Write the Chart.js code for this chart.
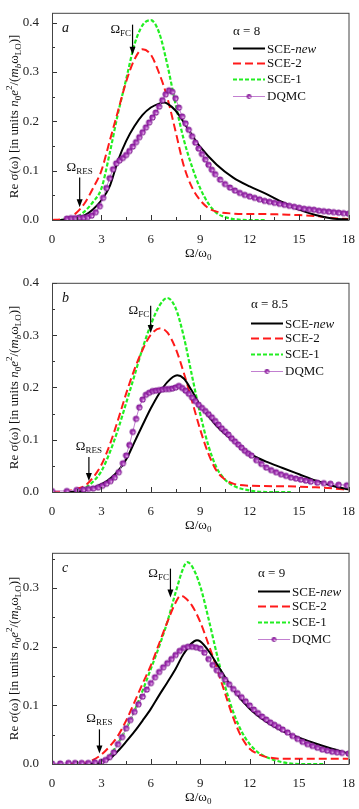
<!DOCTYPE html>
<html>
<head>
<meta charset="utf-8">
<script src="https://cdn.jsdelivr.net/npm/chart.js@4"></script>
<style>
  html, body { margin: 0; padding: 0; background: #fff; }
  .panel { position: absolute; left: 0; width: 359px; }
  canvas { display: block; }
</style>
</head>
<body>
<div class="panel" style="top:0px"><canvas id="chartA" width="359" height="270"></canvas></div>
<div class="panel" style="top:270px"><canvas id="chartB" width="359" height="270"></canvas></div>
<div class="panel" style="top:540px"><canvas id="chartC" width="359" height="269"></canvas></div>
<script>
// 軸の目盛り
const xTicks = [0, 3, 6, 9, 12, 15, 18];
const yTicksA = [0.0, 0.1, 0.2, 0.3, 0.4];
const yTicksB = [0.0, 0.1, 0.2, 0.3, 0.4];
const yTicksC = [0.0, 0.1, 0.2, 0.3];
const seriesNames = ['SCE-new', 'SCE-2', 'SCE-1', 'DQMC'];
const alphaLabels = ['α = 8', 'α = 8.5', 'α = 9'];
const panelLetters = ['a', 'b', 'c'];

// パネル a (α = 8)
const aNewX = [0.5,1,1.5,2,2.5,3,3.5,4,4.5,5,5.5,6,6.5,6.8,7,7.5,8,8.5,9,10,11,12,13,14,15,16,17,18];
const aNewY = [0,0.001,0.003,0.01,0.022,0.04,0.068,0.12,0.16,0.19,0.213,0.228,0.236,0.238,0.236,0.222,0.198,0.172,0.148,0.112,0.086,0.068,0.053,0.036,0.021,0.01,0.003,0.001];
const aSce2X = [0,0.5,1,1.5,2,2.5,3,3.5,4,4.5,5,5.5,6,6.5,7,7.5,8,8.5,9,9.5,10,11,12,13,14,15,16,17,18];
const aSce2Y = [0,0.001,0.004,0.015,0.035,0.065,0.1,0.16,0.22,0.28,0.325,0.346,0.335,0.298,0.248,0.18,0.11,0.066,0.04,0.024,0.017,0.013,0.012,0.012,0.011,0.01,0.008,0.004,0.002];
const aSce1X = [0.5,1,1.5,2,2.5,3,3.5,4,4.5,5,5.5,6,6.5,7,7.5,8,8.5,9,9.5,10,10.5,11,12,13];
const aSce1Y = [0,0.001,0.006,0.018,0.037,0.064,0.135,0.215,0.285,0.355,0.395,0.405,0.38,0.315,0.235,0.163,0.108,0.064,0.033,0.014,0.006,0.002,0,0];
const aDqmcX = [0.9,1.15,1.4,1.65,1.9,2.15,2.4,2.65,2.9,3.1,3.3,3.5,3.7,3.9,4.1,4.3,4.5,4.7,4.9,5.1,5.3,5.5,5.7,5.9,6.1,6.3,6.5,6.7,6.9,7.1,7.3,7.5,7.7,7.9,8.1,8.3,8.5,8.7,8.9,9.1,9.3,9.5,9.7,9.9,10.2,10.5,10.8,11.1,11.4,11.7,12,12.3,12.6,12.9,13.2,13.5,13.8,14.1,14.4,14.7,15,15.3,15.6,15.9,16.2,16.5,16.8,17.1,17.4,17.7,18];
const aDqmcY = [0.003,0.004,0.004,0.005,0.005,0.006,0.009,0.016,0.028,0.045,0.065,0.085,0.103,0.115,0.121,0.126,0.132,0.14,0.149,0.158,0.168,0.178,0.188,0.198,0.208,0.218,0.23,0.243,0.255,0.263,0.26,0.247,0.228,0.21,0.196,0.183,0.17,0.157,0.145,0.134,0.123,0.112,0.102,0.093,0.082,0.073,0.066,0.06,0.055,0.051,0.048,0.045,0.042,0.039,0.037,0.035,0.033,0.031,0.029,0.027,0.025,0.023,0.022,0.021,0.019,0.018,0.017,0.016,0.015,0.014,0.013];

// パネル b (α = 8.5)
const bNewX = [1,2,3,3.5,4,4.5,5,5.5,6,6.5,7,7.6,8,8.5,9,9.5,10,11,12,12.5,13,14,15,16,17,18];
const bNewY = [0,0.003,0.015,0.025,0.04,0.062,0.095,0.128,0.16,0.188,0.21,0.223,0.217,0.193,0.165,0.145,0.126,0.098,0.074,0.065,0.058,0.046,0.034,0.022,0.012,0.005];
const bSce2X = [0,1,1.5,2,2.5,3,3.5,4,4.5,5,5.5,6,6.6,7,7.5,8,8.5,9,9.5,10,10.5,11,12,14,16,17,18];
const bSce2Y = [0,0.002,0.006,0.012,0.028,0.052,0.09,0.137,0.188,0.234,0.272,0.301,0.313,0.305,0.275,0.228,0.174,0.119,0.073,0.04,0.024,0.016,0.012,0.011,0.009,0.007,0.004];
const bSce1X = [1,2,2.5,3,3.5,4,4.5,5,5.5,6,6.5,7,7.5,8,8.5,9,9.5,10,10.5,11,12,13,14.5];
const bSce1Y = [0,0.008,0.02,0.04,0.075,0.119,0.17,0.222,0.275,0.32,0.355,0.371,0.352,0.297,0.222,0.149,0.088,0.046,0.024,0.012,0.003,0,0];
const bDqmcX = [0,0.9,1.5,1.9,2.2,2.5,2.8,3.05,3.3,3.55,3.8,4.05,4.3,4.5,4.7,4.9,5.1,5.3,5.5,5.7,5.9,6.1,6.3,6.5,6.7,6.9,7.1,7.3,7.5,7.7,7.9,8.1,8.3,8.5,8.7,8.9,9.1,9.3,9.5,9.7,9.9,10.1,10.3,10.5,10.7,10.9,11.1,11.3,11.5,11.7,11.9,12.1,12.4,12.7,13,13.3,13.6,13.9,14.2,14.5,14.8,15.1,15.4,15.7,16.1,16.5,16.9,17.4,17.9];
const bDqmcY = [0.002,0.002,0.004,0.005,0.006,0.007,0.009,0.012,0.016,0.021,0.028,0.038,0.055,0.07,0.09,0.115,0.14,0.162,0.177,0.186,0.19,0.193,0.194,0.195,0.196,0.197,0.197,0.198,0.2,0.203,0.199,0.194,0.188,0.181,0.174,0.167,0.161,0.155,0.149,0.143,0.136,0.129,0.122,0.116,0.11,0.103,0.097,0.091,0.085,0.079,0.074,0.07,0.061,0.054,0.047,0.042,0.038,0.034,0.031,0.028,0.026,0.024,0.022,0.02,0.018,0.017,0.016,0.014,0.013];

// パネル c (α = 9)
const cNewX = [2,3,3.5,4,4.5,5,5.5,6,6.5,7,7.5,8,8.8,9,9.5,10,11,12,13,14,15,16,17,18];
const cNewY = [0,0.003,0.009,0.022,0.038,0.055,0.074,0.094,0.117,0.139,0.162,0.188,0.211,0.209,0.193,0.171,0.127,0.094,0.072,0.056,0.045,0.035,0.026,0.018];
const cSce2X = [1,2,2.5,3,3.5,4,4.5,5,5.5,6,6.5,7,7.5,7.8,8,8.5,9,9.5,10,10.5,11,11.5,12,12.5,13,14,16,18];
const cSce2Y = [0,0.002,0.007,0.016,0.03,0.048,0.074,0.105,0.137,0.168,0.205,0.242,0.275,0.287,0.285,0.27,0.242,0.204,0.164,0.121,0.079,0.046,0.026,0.017,0.012,0.009,0.009,0.009];
const cSce1X = [2.5,3,3.5,4,4.5,5,5.5,6,6.5,7,7.5,8,8.2,8.5,9,9.5,10,10.5,11,11.5,12,12.5,13,14,15,16.5];
const cSce1Y = [0,0.004,0.014,0.035,0.06,0.09,0.125,0.162,0.2,0.242,0.292,0.336,0.344,0.337,0.303,0.248,0.188,0.133,0.089,0.056,0.034,0.02,0.012,0.003,0,0];
const cDqmcX = [0,0.5,1,1.4,1.8,2.2,2.6,3,3.25,3.5,3.75,4,4.25,4.5,4.75,5,5.25,5.5,5.75,6,6.25,6.5,6.75,7,7.25,7.5,7.75,8,8.25,8.5,8.75,9,9.25,9.5,9.75,10,10.25,10.5,10.75,11,11.25,11.5,11.75,12,12.25,12.5,12.75,13,13.25,13.5,13.75,14,14.3,14.6,14.9,15.2,15.5,15.8,16.1,16.4,16.7,17,17.3,17.6,18];
const cDqmcY = [0.001,0.001,0.002,0.002,0.002,0.002,0.003,0.004,0.007,0.012,0.02,0.034,0.046,0.061,0.075,0.089,0.102,0.115,0.127,0.138,0.148,0.157,0.165,0.172,0.179,0.186,0.193,0.198,0.2,0.2,0.199,0.197,0.19,0.179,0.169,0.16,0.152,0.144,0.136,0.128,0.121,0.114,0.107,0.1,0.093,0.087,0.081,0.076,0.071,0.067,0.063,0.059,0.054,0.048,0.043,0.038,0.034,0.031,0.028,0.025,0.023,0.021,0.02,0.019,0.018];

// Ω_FC / Ω_RES の矢印位置 (データ座標)
const fcX = [4.89, 5.99, 7.19];
const fcTop = [0.396, 0.356, 0.333];
const fcTip = [0.335, 0.304, 0.284];
const resX = [1.68, 2.24, 2.88];
const resTop = [0.086, 0.067, 0.059];
const resTip = [0.026, 0.021, 0.018];

const serif = "'Liberation Serif', 'DejaVu Serif', serif";

// DQMCの球マーカー
function makeBall(r) {
  const s = Math.ceil(r * 2 + 2);
  const c = document.createElement('canvas');
  c.width = s; c.height = s;
  const g = c.getContext('2d');
  const m = s / 2;
  const grad = g.createRadialGradient(m + r * 0.4, m + r * 0.4, 0.2, m - r * 0.1, m - r * 0.1, r * 1.05);
  grad.addColorStop(0, '#f4d6f6');
  grad.addColorStop(0.35, '#b04cc0');
  grad.addColorStop(0.7, '#8e1ea0');
  grad.addColorStop(1, '#6c0f7e');
  g.fillStyle = grad;
  g.beginPath();
  g.arc(m, m, r, 0, Math.PI * 2);
  g.fill();
  return c;
}
const ball = makeBall(3.1);
const legendBall = makeBall(2.4);

function pts(xs, ys) { return xs.map((x, i) => ({ x: x, y: ys[i] })); }

// 下付き・上付きを含むテキスト描画
function drawRich(ctx, parts, x, y, align) {
  const base = 13, small = 9;
  const fontOf = (p) => (p.i ? 'italic ' : '') + (p.sub || p.sup ? small : base) + 'px ' + serif;
  let total = 0;
  parts.forEach(p => { ctx.font = fontOf(p); total += ctx.measureText(p.t).width; });
  let cx = align === 'center' ? x - total / 2 : (align === 'right' ? x - total : x);
  ctx.textAlign = 'left';
  ctx.textBaseline = 'alphabetic';
  parts.forEach(p => {
    ctx.font = fontOf(p);
    const dy = p.sub ? 3 : (p.sup ? -6 : 0);
    ctx.fillText(p.t, cx, y + dy);
    cx += ctx.measureText(p.t).width;
  });
}

function arrow(ctx, x, y1, y2) {
  ctx.save();
  ctx.strokeStyle = '#000';
  ctx.fillStyle = '#000';
  ctx.lineWidth = 1.2;
  ctx.beginPath();
  ctx.moveTo(x, y1);
  ctx.lineTo(x, y2 - 6);
  ctx.stroke();
  ctx.beginPath();
  ctx.moveTo(x - 3, y2 - 8);
  ctx.lineTo(x + 3, y2 - 8);
  ctx.lineTo(x, y2);
  ctx.closePath();
  ctx.fill();
  ctx.restore();
}

const yTitle = [
  { t: 'Re σ(ω) [in units ' }, { t: 'n', i: true }, { t: '0', sub: true },
  { t: 'e', i: true }, { t: '2', sup: true }, { t: '/(' }, { t: 'm', i: true },
  { t: 'b', sub: true, i: true }, { t: 'ω' }, { t: 'LO', sub: true }, { t: ')]' }
];

function makePanel(id, k, yMax, yTicks, padTop, xHeight, legendDx, alphaDy, rowDy, series) {
  const decor = {
    id: 'decor' + k,
    afterDraw(chart) {
      const ctx = chart.ctx;
      const a = chart.chartArea;
      const xs = chart.scales.x, ys = chart.scales.y;
      ctx.save();
      // 目盛り (内向き)
      ctx.strokeStyle = '#333';
      ctx.lineWidth = 1;
      for (let v = 0; v <= 18.001; v += 1.5) {
        const px = Math.round(xs.getPixelForValue(v)) + 0.5;
        const len = Math.abs(v % 3) < 0.01 ? 5 : 3;
        ctx.beginPath(); ctx.moveTo(px, a.bottom); ctx.lineTo(px, a.bottom - len); ctx.stroke();
      }
      for (let v = 0; v <= yMax + 0.0001; v += 0.05) {
        const py = Math.round(ys.getPixelForValue(v)) + 0.5;
        const len = Math.round(v * 100) % 10 === 0 ? 5 : 3;
        ctx.beginPath(); ctx.moveTo(a.left, py); ctx.lineTo(a.left + len, py); ctx.stroke();
      }
      // 枠
      ctx.strokeStyle = '#444';
      ctx.strokeRect(a.left + 0.5, a.top + 0.5, a.right - a.left, a.bottom - a.top);

      ctx.fillStyle = '#111';
      // y軸タイトル
      ctx.save();
      ctx.translate(18, (a.top + a.bottom) / 2);
      ctx.rotate(-Math.PI / 2);
      drawRich(ctx, yTitle, 0, 0, 'center');
      ctx.restore();
      // x軸タイトル
      drawRich(ctx, [{ t: 'Ω/ω' }, { t: '0', sub: true }], (a.left + a.right) / 2 - 2, a.bottom + 37, 'center');

      // パネル記号
      ctx.font = 'italic 14px ' + serif;
      ctx.textAlign = 'left';
      ctx.fillText(panelLetters[k], a.left + 10, a.top + 19);

      // Ω_FC
      const fx = xs.getPixelForValue(fcX[k]);
      const fTop = ys.getPixelForValue(fcTop[k]);
      arrow(ctx, fx, fTop, ys.getPixelForValue(fcTip[k]));
      drawRich(ctx, [{ t: 'Ω' }, { t: 'FC', sub: true }], fx - 1.5, fTop + 8, 'right');
      // Ω_RES
      const rx = xs.getPixelForValue(resX[k]);
      const rTop = ys.getPixelForValue(resTop[k]);
      arrow(ctx, rx, rTop, ys.getPixelForValue(resTip[k]));
      drawRich(ctx, [{ t: 'Ω' }, { t: 'RES', sub: true }], rx, rTop - 7, 'center');

      // 凡例
      const lx = a.left + legendDx;
      ctx.font = '13px ' + serif;
      ctx.textBaseline = 'middle';
      ctx.fillText(alphaLabels[k], lx, a.top + alphaDy);
      const styles = [
        { c: '#000', w: 2, d: [] },
        { c: '#ff1a1a', w: 2, d: [8, 4] },
        { c: '#22ee22', w: 2.2, d: [4, 2] },
        { c: '#c27fd0', w: 1, d: [] }
      ];
      for (let i = 0; i < 4; i++) {
        const ly = Math.round(a.top + rowDy + i * 15.5 + (i === 3 ? 1.5 : 0)) + 0.5;
        ctx.save();
        ctx.strokeStyle = styles[i].c;
        ctx.lineWidth = styles[i].w;
        ctx.setLineDash(styles[i].d);
        ctx.beginPath(); ctx.moveTo(lx, ly); ctx.lineTo(lx + 32, ly); ctx.stroke();
        ctx.restore();
        if (i === 3) ctx.drawImage(legendBall, lx + 16 - legendBall.width / 2, ly - legendBall.height / 2);
        ctx.fillStyle = '#111';
        ctx.textBaseline = 'middle';
        if (i === 0) {
          drawRich(ctx, [{ t: 'SCE-' }, { t: 'new', i: true }], lx + 34, ly + 4.5, 'left');
        } else {
          ctx.font = '13px ' + serif;
          ctx.fillText(seriesNames[i], lx + 34, ly);
        }
      }
      ctx.restore();
    }
  };

  return new Chart(document.getElementById(id), {
    type: 'line',
    data: {
      datasets: [
        {
          label: 'DQMC', data: pts(series[3][0], series[3][1]),
          borderColor: '#c27fd0', borderWidth: 1, tension: 0,
          pointStyle: ball, pointRadius: 3, pointHoverRadius: 3
        },
        {
          label: 'SCE-new', data: pts(series[0][0], series[0][1]),
          borderColor: '#000', borderWidth: 2, pointRadius: 0, cubicInterpolationMode: 'monotone'
        },
        {
          label: 'SCE-2', data: pts(series[1][0], series[1][1]),
          borderColor: '#ff1a1a', borderWidth: 2, borderDash: [8, 4], pointRadius: 0, cubicInterpolationMode: 'monotone'
        },
        {
          label: 'SCE-1', data: pts(series[2][0], series[2][1]),
          borderColor: '#22ee22', borderWidth: 2.2, borderDash: [4, 2], pointRadius: 0, cubicInterpolationMode: 'monotone'
        }
      ]
    },
    options: {
      responsive: false,
      animation: false,
      layout: { padding: { top: padTop, right: 7, left: 0, bottom: 0 } },
      plugins: { legend: { display: false }, tooltip: { enabled: false } },
      scales: {
        x: {
          type: 'linear', min: 0, max: 18,
          grid: { display: false }, border: { display: false },
          afterBuildTicks: (s) => { s.ticks = xTicks.map(v => ({ value: v })); },
          afterFit: (s) => { s.height = xHeight; },
          ticks: { color: '#222', padding: 4, maxRotation: 0, font: { family: serif, size: 13 } }
        },
        y: {
          type: 'linear', min: 0, max: yMax,
          grid: { display: false }, border: { display: false },
          afterBuildTicks: (s) => { s.ticks = yTicks.map(v => ({ value: v })); },
          afterFit: (s) => { s.width = 52; },
          ticks: { color: '#222', padding: 5, font: { family: serif, size: 13 }, callback: (v) => Number(v).toFixed(1) }
        }
      }
    },
    plugins: [decor]
  });
}

makePanel('chartA', 0, 0.42, yTicksA, 1, 50, 181, 19, 35,
  [[aNewX, aNewY], [aSce2X, aSce2Y], [aSce1X, aSce1Y], [aDqmcX, aDqmcY]]);
makePanel('chartB', 1, 0.4, yTicksB, 3, 48, 199, 22, 40,
  [[bNewX, bNewY], [bSce2X, bSce2Y], [bSce1X, bSce1Y], [bDqmcX, bDqmcY]]);
makePanel('chartC', 2, 0.36, yTicksC, 4, 45, 206, 21, 38,
  [[cNewX, cNewY], [cSce2X, cSce2Y], [cSce1X, cSce1Y], [cDqmcX, cDqmcY]]);
</script>
</body>
</html>
